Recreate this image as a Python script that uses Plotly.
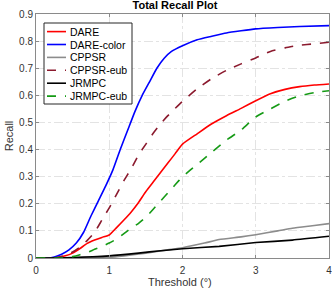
import plotly.graph_objects as go

# ---- data ----
dare_x = [0, 0.2, 0.3, 0.4, 0.5, 0.6, 0.7, 0.8, 0.9, 1.0, 1.1, 1.2, 1.3, 1.4, 1.5, 1.6, 1.7, 1.8, 1.9, 2.0,
          2.2, 2.4, 2.6, 2.8, 3.0, 3.2, 3.4, 3.6, 3.8, 4.0]
dare_y = [0, 0, 0.003, 0.008, 0.018, 0.035, 0.054, 0.066, 0.076, 0.085, 0.112, 0.14, 0.17, 0.205, 0.245,
          0.28, 0.315, 0.35, 0.385, 0.42, 0.458, 0.495, 0.525, 0.552, 0.58, 0.606, 0.622, 0.632, 0.638, 0.642]

darec_x = [0, 0.15, 0.25, 0.35, 0.45, 0.55, 0.65, 0.75, 0.85, 0.95, 1.05, 1.15, 1.25, 1.35, 1.45, 1.55,
           1.65, 1.75, 1.85, 2.0, 2.2, 2.4, 2.6, 2.8, 3.0, 3.3, 3.6, 4.0]
darec_y = [0, 0, 0.004, 0.014, 0.03, 0.055, 0.095, 0.155, 0.21, 0.265, 0.325, 0.40, 0.47, 0.54, 0.6,
           0.65, 0.7, 0.737, 0.762, 0.783, 0.805, 0.818, 0.83, 0.838, 0.845, 0.85, 0.854, 0.857]

cppsr_x = [0, 0.5, 1.0, 1.2, 1.5, 1.8, 2.0, 2.3, 2.5, 2.8, 3.0, 3.3, 3.5, 3.8, 4.0]
cppsr_y = [0, 0, 0.003, 0.008, 0.018, 0.03, 0.038, 0.055, 0.068, 0.078, 0.086, 0.1, 0.11, 0.12, 0.127]

cppsre_x = [0, 0.2, 0.3, 0.4, 0.5, 0.6, 0.7, 0.8, 0.9, 1.0, 1.1, 1.2, 1.3, 1.4, 1.5, 1.6, 1.7, 1.8, 1.9,
            2.0, 2.2, 2.4, 2.6, 2.8, 3.0, 3.2, 3.4, 3.6, 3.8, 4.0]
cppsre_y = [0, 0, 0.003, 0.01, 0.022, 0.04, 0.065, 0.095, 0.14, 0.185, 0.235, 0.285, 0.33, 0.38, 0.42,
            0.46, 0.495, 0.525, 0.552, 0.578, 0.624, 0.662, 0.692, 0.716, 0.738, 0.762, 0.775, 0.785, 0.79, 0.796]

jrmpc_x = [0, 0.5, 1.0, 1.4, 1.7, 2.0, 2.5, 3.0, 3.5, 4.0]
jrmpc_y = [0, 0.002, 0.008, 0.018, 0.027, 0.034, 0.043, 0.057, 0.066, 0.08]

jrmpce_x = [0, 0.4, 0.5, 0.6, 0.7, 0.8, 0.9, 1.0, 1.1, 1.2, 1.3, 1.4, 1.5, 1.6, 1.7, 1.8, 1.9, 2.0,
            2.2, 2.4, 2.6, 2.8, 3.0, 3.2, 3.4, 3.6, 3.8, 4.0]
jrmpce_y = [0, 0, 0.005, 0.012, 0.02, 0.032, 0.043, 0.055, 0.07, 0.09, 0.11, 0.128, 0.15, 0.18, 0.21,
            0.24, 0.27, 0.3, 0.345, 0.39, 0.435, 0.472, 0.52, 0.55, 0.578, 0.598, 0.61, 0.617]

x_ticks = [0, 1, 2, 3, 4]
y_ticks = [0, 0.1, 0.2, 0.3, 0.4, 0.5, 0.6, 0.7, 0.8, 0.9]
y_tick_labels = ["0", "0.1", "0.2", "0.3", "0.4", "0.5", "0.6", "0.7", "0.8", "0.9"]

series_names = ["DARE", "DARE-color", "CPPSR", "CPPSR-eub", "JRMPC", "JRMPC-eub"]
series_x = [dare_x, darec_x, cppsr_x, cppsre_x, jrmpc_x, jrmpce_x]
series_y = [dare_y, darec_y, cppsr_y, cppsre_y, jrmpc_y, jrmpce_y]
series_colors = ["#ff0000", "#0000ff", "#8c8c8c", "#8b1a2e", "#000000", "#159a15"]
series_dash = ["solid", "solid", "solid", "dash", "solid", "dash"]

# ---- layout geometry (pixels) ----
W, H = 332, 288
L, R, T, B = 36, 3, 14, 30
pw, ph = W - L - R, H - T - B

def px(x):
    return (x - L) / pw

def py(y):
    return (H - B - y) / ph

font = "Liberation Sans, Arial, sans-serif"

fig = go.Figure()
for name, xs, ys, col, dash in zip(series_names, series_x, series_y, series_colors, series_dash):
    fig.add_trace(go.Scatter(x=xs, y=ys, name=name, mode="lines", showlegend=False,
                             line=dict(color=col, width=1.6, dash=dash, shape="spline", smoothing=0.5)))

# custom compact legend (MATLAB-like)
shapes = [dict(type="rect", xref="paper", yref="paper",
               x0=px(44), x1=px(132), y0=py(104), y1=py(23),
               fillcolor="white", line=dict(color="#262626", width=1), layer="above")]
annotations = []
for i, (name, col, dash) in enumerate(zip(series_names, series_colors, series_dash)):
    yy = 31.6 + 12.9 * i
    shapes.append(dict(type="line", xref="paper", yref="paper",
                       x0=px(47), x1=px(66), y0=py(yy), y1=py(yy),
                       line=dict(color=col, width=1.6, dash=dash), layer="above"))
    annotations.append(dict(xref="paper", yref="paper", x=px(68), y=py(yy),
                            xanchor="left", yanchor="middle", text=name, showarrow=False,
                            font=dict(size=10.5, color="#000000", family=font)))

# x-axis title placed as text below tick labels
annotations.append(dict(xref="paper", yref="paper", x=px(180), y=py(282),
                        xanchor="center", yanchor="middle", text="Threshold (°)", showarrow=False,
                        font=dict(size=11, color="#333333", family=font)))

axis_common = dict(
    showline=True, linecolor="#8a8a8a", linewidth=1, mirror="ticks",
    ticks="inside", ticklen=3, tickcolor="#8a8a8a",
    showgrid=True, gridcolor="#e3e3e3", griddash="dashdot", gridwidth=1,
    zeroline=False, automargin=False, ticklabeloverflow="allow",
    tickfont=dict(size=10, color="#333333", family=font),
)

fig.update_layout(
    width=W, height=H,
    margin=dict(l=L, r=R, t=T, b=B),
    paper_bgcolor="white", plot_bgcolor="white",
    title=dict(text="<b>Total Recall Plot</b>", xref="container", x=0.527, xanchor="center",
               yref="container", y=0.995, yanchor="top",
               font=dict(size=11, color="#000000", family=font)),
    xaxis=dict(range=[0, 4], tickvals=x_ticks, ticklabelstandoff=3, **axis_common),
    yaxis=dict(range=[0, 0.9], tickvals=y_ticks, ticktext=y_tick_labels,
               title=dict(text="Recall", font=dict(size=11, color="#333333", family=font), standoff=3),
               **axis_common),
    shapes=shapes,
    annotations=annotations,
    showlegend=False,
)

fig.write_html("out.html", config={"displayModeBar": False},
               post_script="document.body.style.margin='0';")
